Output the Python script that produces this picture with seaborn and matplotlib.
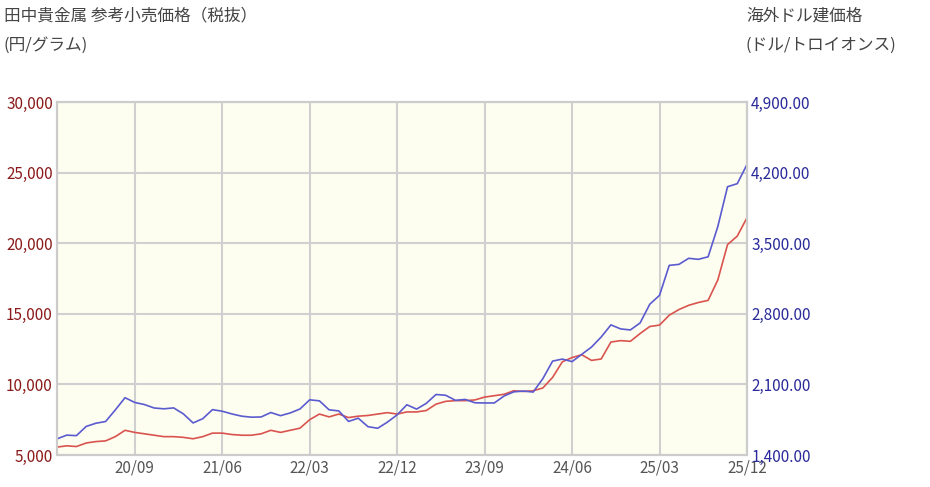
import matplotlib
matplotlib.use("Agg")
import matplotlib.pyplot as plt
import seaborn as sns
import pandas as pd
import numpy as np

months = pd.date_range("2020-01-01", "2025-12-01", freq="MS")
yen = [5560,5650,5600,5850,5950,6000,6300,6750,6600,6500,6400,6300,
       6300,6250,6150,6300,6550,6550,6450,6400,6400,6500,6750,6600,
       6750,6900,7500,7900,7700,7900,7650,7750,7800,7900,8000,7900,
       8050,8050,8150,8600,8800,8850,8850,8900,9100,9200,9300,9550,
       9500,9550,9750,10500,11600,11900,12100,11700,11800,13000,13100,13050,
       13600,14100,14200,14900,15300,15600,15800,15950,17400,19900,20500,21800]
usd = [1560,1597,1592,1683,1715,1732,1847,1968,1921,1900,1866,1858,
       1867,1808,1718,1760,1850,1834,1807,1785,1775,1777,1821,1790,
       1817,1856,1947,1937,1848,1837,1733,1765,1681,1665,1726,1798,
       1898,1855,1912,2000,1992,1942,1951,1918,1916,1916,1985,2026,
       2034,2024,2158,2331,2351,2326,2398,2470,2570,2690,2650,2640,
       2709,2895,2983,3280,3290,3350,3340,3365,3665,4060,4090,4280]
xticks = ["20/09","21/06","22/03","22/12","23/09","24/06","25/03","25/12"]
left_ticks = [5000,10000,15000,20000,25000,30000]
right_ticks = [1400,2100,2800,3500,4200,4900]

df = pd.DataFrame({"i": np.arange(len(months)), "yen": yen, "usd": usd})

sns.set_theme(style="white")
plt.rcParams['font.family'] = ['Noto Sans CJK JP', 'DejaVu Sans']

fig = plt.figure(figsize=(9.3, 4.87), dpi=100)
ax = fig.add_axes([0.0613, 0.0657, 0.7419, 0.7249])
ax.set_facecolor("#fdfdf0")
ax2 = ax.twinx()

sns.lineplot(data=df, x="i", y="yen", ax=ax, color="#d9544f", linewidth=1.2)
sns.lineplot(data=df, x="i", y="usd", ax=ax2, color="#5b5bd0", linewidth=1.2)

ax.set_xlim(0, len(months)-1)
ax.set_ylim(5000, 30000)
ax2.set_ylim(1400, 4900)
tick_pos = [8 + 9*k for k in range(len(xticks))]
ax.set_xticks(tick_pos)
ax.set_xticklabels(xticks, color="#555555", fontsize=11)
ax.set_yticks(left_ticks)
ax.set_yticklabels([f"{v:,}" for v in left_ticks], color="#8b1a1a", fontsize=11)
ax2.set_yticks(right_ticks)
ax2.set_yticklabels([f"{v:,.2f}" for v in right_ticks], color="#2a2a9a", fontsize=11)
ax.grid(True, color="#d0d0d0", linewidth=1.5)
ax.set_xlabel(""); ax.set_ylabel(""); ax2.set_ylabel("")
for a in (ax, ax2):
    for s in a.spines.values():
        s.set_color("#cccccc")
        s.set_linewidth(1.5)
    a.tick_params(length=0, pad=3)

fig.text(0.004, 0.985, "田中貴金属 参考小売価格（税抜）", ha="left", va="top", fontsize=12, color="#444444")
fig.text(0.004, 0.925, "(円/グラム)", ha="left", va="top", fontsize=12, color="#444444")
fig.text(0.802, 0.985, "海外ドル建価格", ha="left", va="top", fontsize=12, color="#444444")
fig.text(0.802, 0.925, "(ドル/トロイオンス)", ha="left", va="top", fontsize=12, color="#444444")

fig.savefig("out.png", dpi=100)
